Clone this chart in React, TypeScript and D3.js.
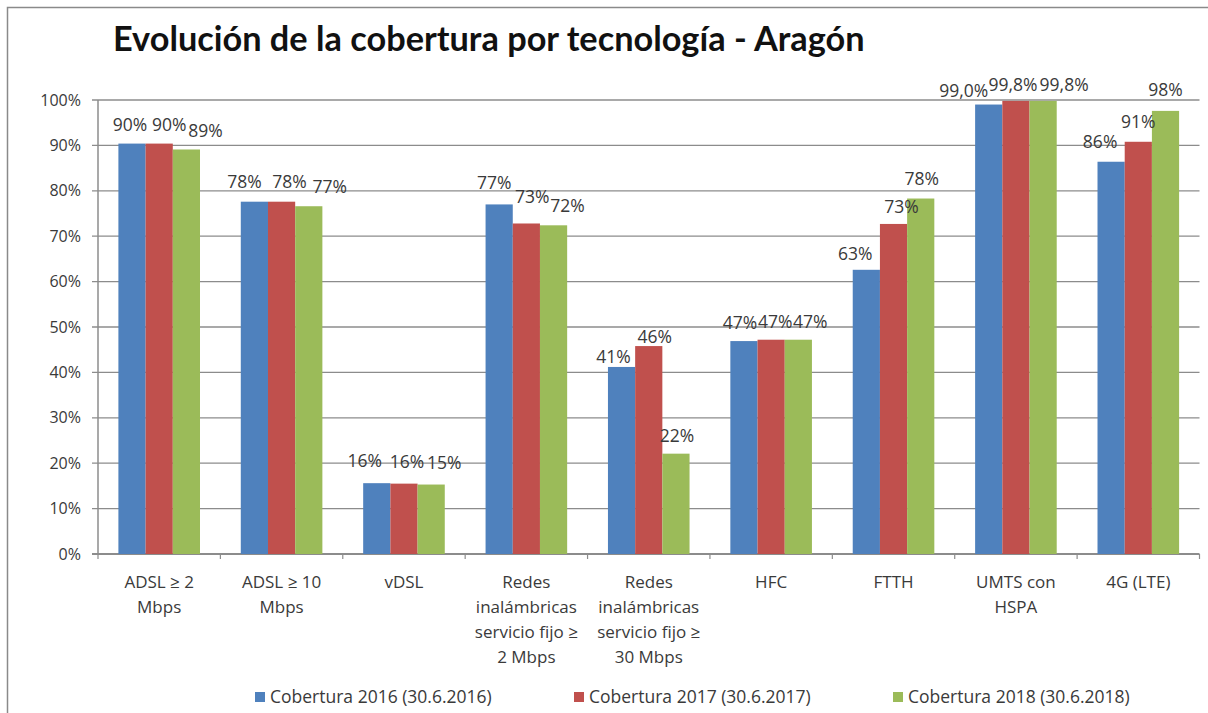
import React from 'react';
import * as d3 from 'd3';

// --- Chart data ---
const categories = [
  'ADSL ≥ 2 Mbps', 'ADSL ≥ 10 Mbps', 'vDSL', 'Redes 2 Mbps', 'Redes 30 Mbps',
  'HFC', 'FTTH', 'UMTS con HSPA', '4G (LTE)'
];
const categoryLines = [
  ['ADSL ≥ 2', 'Mbps'],
  ['ADSL ≥ 10', 'Mbps'],
  ['vDSL'],
  ['Redes', 'inalámbricas', 'servicio fijo ≥', '2 Mbps'],
  ['Redes', 'inalámbricas', 'servicio fijo ≥', '30 Mbps'],
  ['HFC'],
  ['FTTH'],
  ['UMTS con', 'HSPA'],
  ['4G (LTE)']
];
const seriesNames = [
  'Cobertura 2016 (30.6.2016)',
  'Cobertura 2017 (30.6.2017)',
  'Cobertura 2018 (30.6.2018)'
];
const values2016 = [90.4, 77.6, 15.6, 77.0, 41.2, 46.9, 62.6, 99.0, 86.4];
const values2017 = [90.4, 77.6, 15.5, 72.8, 45.8, 47.2, 72.7, 99.8, 90.8];
const values2018 = [89.1, 76.6, 15.3, 72.4, 22.1, 47.2, 78.3, 99.8, 97.6];
const labelDecimals = [0, 0, 0, 0, 0, 0, 0, 1, 0];
const yTicks = [0, 10, 20, 30, 40, 50, 60, 70, 80, 90, 100];

// --- Layout ---
const W = 1208;
const H = 713;
const colors = ['#4F81BD', '#C0504D', '#9BBB59'];
const textColor = '#3a3a3a';
const gridColor = '#8C8C8C';
const font = '"Open Sans", "Noto Sans", sans-serif';

// label nudges as the original chart placed them: [dx, height above bar top]
const labelNudge = [
  [[-2, 19], [10, 19], [19, 19]],
  [[-10, 20], [8, 20], [21, 19]],
  [[-12, 22], [3, 22], [13, 22]],
  [[-5, 22], [6, 27], [14, 19]],
  [[-8, 10], [6, 9], [1, 18]],
  [[-4, 18], [4, 18], [12, 18]],
  [[-11, 16], [8, 17], [1, 20]],
  [[-25, 14], [-3, 16], [21, 16]],
  [[-11, 20], [0, 20], [0, 21]]
];

const locale = d3.formatLocale({ decimal: ',', thousands: '.', grouping: [3], currency: ['', '€'] });

const App = () => {
  const seriesValues = [values2016, values2017, values2018];
  const x = d3.scaleBand<string>().domain(categories).range([98, 1199.5]).paddingInner(0).paddingOuter(0);
  const xInner = d3.scaleBand<string>().domain(seriesNames).range([0, x.bandwidth()]).paddingInner(0).paddingOuter(0.75);
  const y = d3.scaleLinear().domain([0, 100]).range([554, 100]);

  const boundaries = categories.map(c => x(c) as number).concat([x.range()[1]]);

  return (
    <svg width={W} height={H} style={{ position: 'absolute', left: 0, top: 0, background: '#fff' }} fontFamily={font}>
      <rect x={7.5} y={7.5} width={W + 10} height={H + 10} fill="#fff" stroke="#8a8a8a" strokeWidth={1.5} />

      <text x={113} y={51} fontSize={34.3} fontWeight="bold" fill="#111" fontFamily='Lato, "Noto Sans", sans-serif'>
        Evolución de la cobertura por tecnología - Aragón
      </text>

      {/* gridlines + y axis */}
      {yTicks.map(t => (
        <g key={t}>
          <line x1={92} x2={x.range()[1]} y1={y(t)} y2={y(t)} stroke={gridColor} strokeWidth={t === 0 ? 2 : 1.3} />
          <text x={81} y={y(t)} dy="0.35em" textAnchor="end" fontSize={16} fill={textColor}>{t}%</text>
        </g>
      ))}
      <line x1={98} x2={98} y1={y(100)} y2={y(0)} stroke={gridColor} strokeWidth={1.5} />
      {boundaries.map((b, i) => (
        <line key={i} x1={b} x2={b} y1={y(0)} y2={y(0) + 5} stroke={gridColor} strokeWidth={1.2} />
      ))}

      {/* bars */}
      {categories.map((c, ci) => (
        <g key={c} transform={`translate(${x(c)},0)`}>
          {seriesNames.map((s, si) => {
            const v = seriesValues[si][ci];
            const bx = xInner(s) as number;
            return (
              <rect key={s} x={bx} y={y(v)} width={xInner.bandwidth()} height={y(0) - y(v)} fill={colors[si]} />
            );
          })}
        </g>
      ))}

      {/* data labels */}
      {categories.map((c, ci) => (
        <g key={c + '-lbl'} transform={`translate(${x(c)},0)`}>
          {seriesNames.map((s, si) => {
            const v = seriesValues[si][ci];
            const cx = (xInner(s) as number) + xInner.bandwidth() / 2 + labelNudge[ci][si][0];
            const cy = y(v) - labelNudge[ci][si][1];
            const fmt = locale.format(`.${labelDecimals[ci]}f`);
            return (
              <text key={s} x={cx} y={cy} dy="0.35em" textAnchor="middle" fontSize={17.5} fill={textColor}>
                {fmt(v)}%
              </text>
            );
          })}
        </g>
      ))}

      {/* category labels */}
      {categories.map((c, ci) => (
        <text key={c + '-cat'} x={(x(c) as number) + x.bandwidth() / 2} y={582} textAnchor="middle" fontSize={17} fill={textColor}>
          {categoryLines[ci].map((line, li) => (
            <tspan key={li} x={(x(c) as number) + x.bandwidth() / 2} y={582 + li * 25} dy="0.35em">{line}</tspan>
          ))}
        </text>
      ))}

      {/* legend */}
      {seriesNames.map((s, si) => (
        <g key={s + '-leg'} transform={`translate(${255 + si * 319},697)`}>
          <rect x={0} y={-5} width={10} height={10} fill={colors[si]} />
          <text x={15} y={0} dy="0.35em" fontSize={17.5} fill={textColor}>{s}</text>
        </g>
      ))}
    </svg>
  );
};

export default App;
